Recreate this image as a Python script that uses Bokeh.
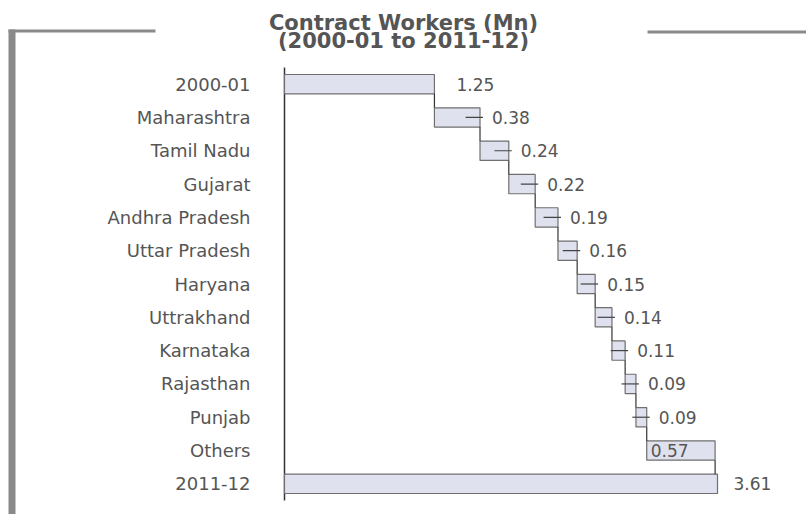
from bokeh.plotting import figure
from bokeh.models import Range1d, ColumnDataSource
from bokeh.core.properties import value
from bokeh.embed import file_html
from bokeh.resources import INLINE

# ---------------- data ----------------
categories = ["2000-01", "Maharashtra", "Tamil Nadu", "Gujarat", "Andhra Pradesh",
              "Uttar Pradesh", "Haryana", "Uttrakhand", "Karnataka", "Rajasthan",
              "Punjab", "Others", "2011-12"]
values = [1.25, 0.38, 0.24, 0.22, 0.19, 0.16, 0.15, 0.14, 0.11, 0.09, 0.09, 0.57, 3.61]
value_labels = ["1.25", "0.38", "0.24", "0.22", "0.19", "0.16", "0.15", "0.14",
                "0.11", "0.09", "0.09", "0.57", "3.61"]
kinds = ["total"] + ["step"] * 11 + ["total"]
title_lines = ["Contract Workers (Mn)", "(2000-01 to 2011-12)"]

# ---------------- waterfall geometry from data ----------------
lefts, rights = [], []
running = 0.0
for v, k in zip(values, kinds):
    if k == "total":
        lefts.append(0.0)
        rights.append(v)
        running = v
    else:
        lefts.append(running)
        running += v
        rights.append(running)
N = len(categories)
rows = list(range(N))          # row index, 0 = top

# ---------------- layout constants (pixels) ----------------
W, H = 806, 514
AX_X, AX_TOP, AX_BOT = 284, 67, 500      # axis line position on the canvas
X_END_VAL = 3.61
X_END_PX = 717
PX_X = (X_END_PX - AX_X) / X_END_VAL
PX_Y = (AX_BOT - AX_TOP) / N

def dx(px):   # canvas x pixel -> data x
    return (px - AX_X) / PX_X

def dy(px):   # canvas y pixel -> row coordinate
    return (px - AX_TOP) / PX_Y - 0.5

TEXT = "#555555"
FONT = "DejaVu Sans"
BAR_H = 0.58
FRAME = "#8a8a8a"

p = figure(width=W, height=H, output_backend="svg", toolbar_location=None,
           x_range=Range1d(dx(0), dx(W)), y_range=Range1d(dy(H), dy(0)),
           x_axis_location=None, y_axis_location=None, min_border=0)
p.grid.visible = False
p.outline_line_color = None
p.background_fill_color = "white"
p.border_fill_color = "white"

# decorative frame (thick left rule and top rule broken by the title)
p.quad(left=[dx(8), dx(8), dx(647)], right=[dx(15), dx(155), dx(810)],
       top=[dy(29), dy(29), dy(30)], bottom=[dy(520), dy(32), dy(33)],
       fill_color=FRAME, line_color=None)

# title
p.text(x=[dx(403), dx(403)], y=[dy(22), dy(40)], text=title_lines,
       text_font=value(FONT), text_font_size="21px", text_font_style="bold",
       text_color=TEXT, text_align="center", text_baseline="middle")

# category axis: line + labels
p.segment(x0=[0], x1=[0], y0=[-0.5], y1=[N - 0.5], line_color="#333333", line_width=1.5)
p.text(x=[0] * N, y=rows, text=categories, x_offset=-34,
       text_font=value(FONT), text_font_size="18px", text_color=TEXT,
       text_align="right", text_baseline="middle")

# bars
src = ColumnDataSource(dict(row=rows, left=lefts, right=rights))
p.hbar(y="row", left="left", right="right", height=BAR_H, source=src,
       fill_color="#dfe2ee", line_color="#6f6f6f", line_width=1.2)

# connectors
p.segment(x0=rights[:-1], x1=rights[:-1],
          y0=[r + BAR_H / 2 for r in rows[:-1]], y1=[r - BAR_H / 2 for r in rows[1:]],
          line_color="#333333", line_width=1.2)

# leader ticks for step rows with outside labels
inside = {"Others"}
tk = [i for i, k in enumerate(kinds) if k == "step" and categories[i] not in inside]
p.segment(x0=[rights[i] - 0.12 for i in tk], x1=[rights[i] + 0.025 for i in tk],
          y0=[rows[i] for i in tk], y1=[rows[i] for i in tk],
          line_color="#444444", line_width=1.2)

# value labels
offsets, xs = [], []
for i, c in enumerate(categories):
    if c in inside:
        xs.append(lefts[i]); offsets.append(4)
    elif i == 0:
        xs.append(rights[i]); offsets.append(22)
    elif kinds[i] == "total":
        xs.append(rights[i]); offsets.append(16)
    else:
        xs.append(rights[i]); offsets.append(12)
lab_src = ColumnDataSource(dict(x=xs, row=rows, lab=value_labels, off=offsets))
p.text(x="x", y="row", text="lab", x_offset="off", source=lab_src,
       text_font=value(FONT), text_font_size="17px", text_color=TEXT,
       text_align="left", text_baseline="middle")

open("out.html", "w").write(file_html(p, INLINE))
